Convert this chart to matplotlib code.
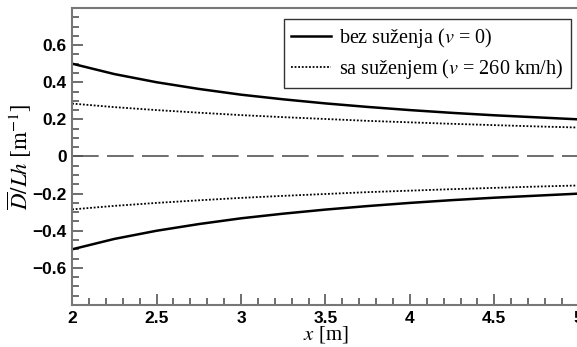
import matplotlib.pyplot as plt
from matplotlib.ticker import MultipleLocator

# values
x = [2.0, 2.25, 2.5, 2.75, 3.0, 3.25, 3.5, 3.75, 4.0, 4.25, 4.5, 4.75, 5.0]
bez_gore = [0.500, 0.444, 0.400, 0.364, 0.333, 0.308, 0.286, 0.267, 0.250, 0.235, 0.222, 0.211, 0.200]
bez_dole = [-0.500, -0.444, -0.400, -0.364, -0.333, -0.308, -0.286, -0.267, -0.250, -0.235, -0.222, -0.211, -0.200]
sa_gore = [0.285, 0.266, 0.250, 0.236, 0.223, 0.212, 0.202, 0.192, 0.184, 0.176, 0.169, 0.162, 0.156]
sa_dole = [-0.285, -0.266, -0.250, -0.236, -0.223, -0.212, -0.202, -0.192, -0.184, -0.176, -0.169, -0.162, -0.156]

plt.rcParams['mathtext.fontset'] = 'stix'

fig = plt.figure(figsize=(5.77, 3.47), dpi=100)
ax = fig.add_axes([0.125, 0.121, 0.878, 0.856])

ax.plot(x, bez_gore, 'k-', lw=1.8, label=r'bez suženja ($v$ = 0)')
ax.plot(x, bez_dole, 'k-', lw=1.8)
ax.plot(x, sa_gore, color='k', ls=(0, (1, 1)), lw=1.3, label=r'sa suženjem ($v$ = 260 km/h)')
ax.plot(x, sa_dole, color='k', ls=(0, (1, 1)), lw=1.3)
ax.axhline(0, color='#555555', lw=1.2, ls=(0, (16, 5)))

ax.set_xlim(2, 5)
ax.set_ylim(-0.8, 0.8)
ax.xaxis.set_minor_locator(MultipleLocator(0.1))
ax.yaxis.set_minor_locator(MultipleLocator(0.05))
ax.set_yticks([-0.6, -0.4, -0.2, 0, 0.2, 0.4, 0.6])
ax.set_yticklabels(['\u22120.6', '\u22120.4', '\u22120.2', '0', '0.2', '0.4', '0.6'])
ax.set_xticks([2, 2.5, 3, 3.5, 4, 4.5, 5])
ax.set_xticklabels(['2', '2.5', '3', '3.5', '4', '4.5', '5'])

ax.tick_params(which='both', direction='in', top=False, right=False, color='#555555', width=1.2)
ax.tick_params(which='major', length=8, pad=4)
ax.tick_params(which='minor', length=5)
for lab in ax.get_xticklabels() + ax.get_yticklabels():
    lab.set_fontfamily('Liberation Sans')
    lab.set_fontweight('bold')
    lab.set_fontsize(12.5)

for s in ax.spines.values():
    s.set_color('#777777')
    s.set_linewidth(1.5)
ax.spines['right'].set_visible(False)

ax.set_xlabel(r'$x$ [m]', fontsize=15, family='Liberation Serif', labelpad=-1)
ax.set_ylabel(r'$\overline{D}/Lh\ [\mathrm{m}^{-1}]$', fontsize=16.5, labelpad=-1)

leg = ax.legend(loc='upper right', bbox_to_anchor=(0.984, 0.962), frameon=True, fancybox=False,
                edgecolor='k', handlelength=2.0, handletextpad=0.4, borderpad=0.35,
                labelspacing=0.32, borderaxespad=0, prop={'family': 'Liberation Serif', 'size': 14.5})
leg.get_frame().set_linewidth(1.0)

fig.savefig('out.png', dpi=100)
